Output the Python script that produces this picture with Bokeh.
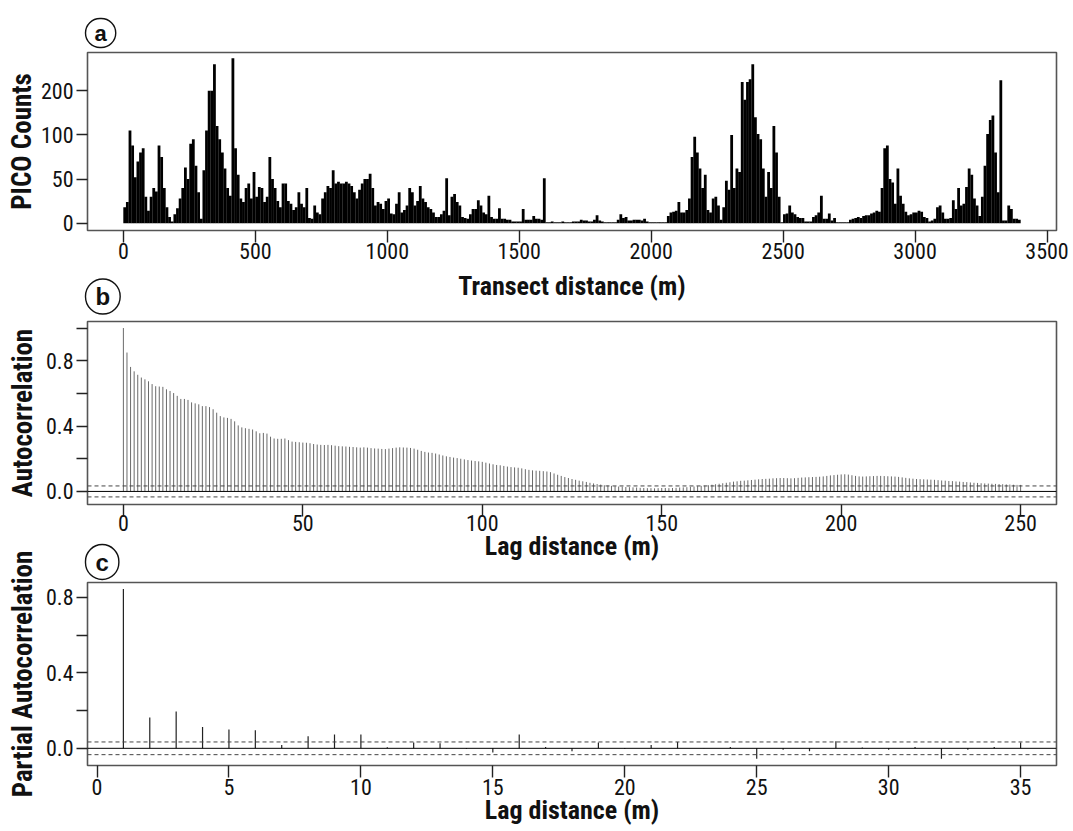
from bokeh.plotting import figure
from bokeh.models import Range1d, FixedTicker, Span, NumeralTickFormatter
from bokeh.layouts import column
from bokeh.embed import file_html
from bokeh.resources import INLINE

# ---------------- data ----------------
# panel a: PICO counts in 10 m bins along the transect (bin centres)
transect_bin_m = list(range(5, 3400, 10))
pico_counts = [
    18, 24, 105, 88, 52, 70, 80, 85, 30, 14,
    30, 40, 36, 88, 75, 40, 18, 7, 2, 10,
    17, 28, 40, 63, 50, 90, 95, 65, 35, 5,
    60, 105, 150, 150, 180, 110, 95, 80, 62, 40,
    31, 187, 85, 55, 28, 24, 40, 45, 28, 58,
    30, 41, 40, 24, 30, 75, 50, 40, 25, 18,
    45, 45, 25, 22, 15, 18, 35, 22, 18, 40,
    6, 5, 20, 12, 10, 28, 35, 42, 40, 60,
    45, 47, 45, 45, 47, 45, 42, 35, 28, 38,
    45, 50, 50, 56, 40, 20, 24, 22, 16, 25,
    28, 11, 10, 22, 35, 12, 15, 20, 40, 35,
    20, 25, 42, 28, 24, 18, 16, 12, 7, 7,
    10, 14, 51, 9, 30, 33, 24, 20, 7, 6,
    5, 10, 16, 16, 26, 20, 12, 10, 31, 7,
    5, 5, 17, 5, 5, 4, 4, 2, 2, 2,
    2, 16, 4, 4, 4, 8, 5, 5, 4, 51,
    1, 1, 2, 1, 1, 1, 2, 1, 1, 1,
    2, 2, 2, 4, 3, 3, 2, 2, 4, 9,
    3, 2, 1, 1, 1, 1, 1, 4, 10, 6,
    7, 3, 3, 4, 4, 4, 3, 5, 2, 1,
    1, 1, 1, 1, 1, 1, 8, 12, 13, 14,
    24, 12, 12, 15, 28, 75, 98, 80, 62, 40,
    55, 15, 12, 28, 30, 20, 4, 18, 48, 38,
    100, 40, 62, 58, 160, 140, 160, 163, 180, 120,
    101, 95, 62, 30, 58, 40, 110, 80, 30, 1,
    10, 11, 20, 12, 10, 7, 6, 6, 2, 2,
    2, 7, 9, 12, 31, 5, 5, 11, 3, 6,
    1, 1, 1, 1, 1, 4, 5, 6, 7, 6,
    8, 9, 9, 11, 12, 14, 13, 40, 85, 88,
    50, 46, 22, 62, 31, 22, 13, 9, 10, 12,
    12, 14, 13, 7, 6, 2, 3, 5, 18, 20,
    12, 5, 5, 6, 26, 16, 40, 20, 22, 41,
    62, 55, 28, 20, 8, 30, 65, 101, 117, 122,
    80, 35, 162, 3, 3, 20, 16, 5, 5, 4,
]
a_x_ticks = [0, 500, 1000, 1500, 2000, 2500, 3000, 3500]
a_y_ticks = [0, 50, 100, 150]
a_y_labels = {150: "200"}

# panel b: autocorrelation, lags 0..250 m
acf_lag_m = list(range(0, 251))
acf_values = [
    1.000, 0.850, 0.762, 0.735, 0.714, 0.697, 0.686, 0.674, 0.657, 0.644,
    0.642, 0.640, 0.625, 0.615, 0.602, 0.585, 0.566, 0.566, 0.560, 0.545,
    0.539, 0.533, 0.522, 0.522, 0.516, 0.503, 0.482, 0.461, 0.453, 0.450,
    0.444, 0.429, 0.404, 0.392, 0.387, 0.383, 0.379, 0.368, 0.356, 0.358,
    0.354, 0.335, 0.324, 0.322, 0.322, 0.324, 0.314, 0.305, 0.303, 0.301,
    0.299, 0.298, 0.295, 0.290, 0.287, 0.285, 0.284, 0.285, 0.283, 0.280,
    0.277, 0.276, 0.275, 0.273, 0.272, 0.270, 0.268, 0.270, 0.268, 0.265,
    0.263, 0.262, 0.260, 0.259, 0.262, 0.265, 0.268, 0.270, 0.269, 0.268,
    0.266, 0.262, 0.255, 0.248, 0.242, 0.238, 0.236, 0.232, 0.226, 0.220,
    0.215, 0.211, 0.207, 0.204, 0.200, 0.196, 0.192, 0.189, 0.186, 0.184,
    0.181, 0.176, 0.171, 0.166, 0.162, 0.160, 0.156, 0.152, 0.149, 0.147,
    0.145, 0.141, 0.136, 0.132, 0.129, 0.127, 0.126, 0.124, 0.122, 0.118,
    0.110, 0.102, 0.095, 0.088, 0.082, 0.076, 0.071, 0.066, 0.062, 0.058,
    0.053, 0.049, 0.045, 0.042, 0.038, 0.036, 0.034, 0.032, 0.030, 0.029,
    0.027, 0.026, 0.025, 0.024, 0.022, 0.021, 0.020, 0.020, 0.019, 0.020,
    0.021, 0.021, 0.020, 0.021, 0.022, 0.024, 0.025, 0.026, 0.028, 0.030,
    0.032, 0.034, 0.036, 0.038, 0.041, 0.044, 0.047, 0.050, 0.053, 0.056,
    0.060, 0.062, 0.065, 0.066, 0.068, 0.070, 0.072, 0.074, 0.076, 0.077,
    0.078, 0.080, 0.081, 0.082, 0.082, 0.081, 0.080, 0.081, 0.083, 0.085,
    0.086, 0.087, 0.088, 0.089, 0.090, 0.092, 0.095, 0.098, 0.100, 0.102,
    0.104, 0.105, 0.103, 0.099, 0.095, 0.092, 0.091, 0.092, 0.093, 0.094,
    0.095, 0.095, 0.094, 0.093, 0.092, 0.091, 0.089, 0.086, 0.083, 0.080,
    0.078, 0.076, 0.075, 0.074, 0.073, 0.072, 0.071, 0.069, 0.067, 0.066,
    0.064, 0.063, 0.061, 0.060, 0.058, 0.057, 0.055, 0.053, 0.052, 0.050,
    0.049, 0.048, 0.047, 0.046, 0.045, 0.044, 0.043, 0.042, 0.041, 0.040,
    0.040,
]
b_x_ticks = [0, 50, 100, 150, 200, 250]

# panel c: partial autocorrelation, lags 1..35 m
pacf_lag_m = list(range(1, 36))
pacf_values = [
    0.844, 0.163, 0.195, 0.113, 0.100, 0.095, 0.018, 0.064, 0.073, 0.073,
    0.005, 0.031, 0.027, -0.004, -0.022, 0.073, 0.007, -0.015, 0.031, -0.004,
    0.018, 0.033, 0.002, 0.007, -0.055, -0.007, -0.015, 0.037, 0.004, -0.007,
    0.007, -0.055, -0.007, 0.007, 0.031,
]
c_x_ticks = [0, 5, 10, 15, 20, 25, 30, 35]
corr_major = [0.0, 0.4, 0.8]
b_corr_minor = [0.2, 0.6, 1.0]
c_corr_minor = [0.2, 0.6]
ci_bound = 0.0336  # 1.96 / sqrt(3400)

# ---------------- styling ----------------
TICK_FONT = "Roboto Condensed"
TITLE_FONT = "Roboto Condensed"
LETTER_FONT = "Liberation Sans"
W = 1073


def make_fig(height, top, bottom, xr, yr, margin=None):
    kw = dict(width=W, height=height, x_range=xr, y_range=yr,
              output_backend="svg", toolbar_location=None, tools="",
              min_border_left=87, min_border_right=17,
              min_border_top=top, min_border_bottom=bottom,
              border_fill_color=None, background_fill_color="white",
              outline_line_color="#555555", outline_line_width=1.6)
    if margin is not None:
        kw["margin"] = margin
    p = figure(**kw)
    p.grid.visible = False
    for ax in (p.xaxis[0], p.yaxis[0]):
        ax.axis_line_color = None
        ax.major_tick_line_color = "#222222"
        ax.major_tick_line_width = 1.4
        ax.major_tick_in = 0
        ax.minor_tick_line_color = "#222222"
        ax.minor_tick_line_width = 1.4
        ax.minor_tick_in = 0
        ax.major_label_text_font = TICK_FONT
        ax.major_label_text_font_size = "22px"
        ax.major_label_text_color = "#111111"
        ax.axis_label_text_font = TITLE_FONT
        ax.axis_label_text_font_style = "bold"
        ax.axis_label_text_color = "#111111"
    p.xaxis.axis_label_text_font_size = "26px"
    p.yaxis.axis_label_text_font_size = "27px"
    p.xaxis.major_tick_out = 12
    p.xaxis.major_label_standoff = 0
    p.yaxis.major_tick_out = 11
    p.yaxis.minor_tick_out = 11
    p.yaxis.major_label_standoff = 3
    return p


def letter(p, txt, size, pad_x, pad_y, standoff):
    t = p.title
    t.text = txt
    t.align = "left"
    t.offset = -2
    t.standoff = standoff
    t.text_font = LETTER_FONT
    t.text_font_style = "bold"
    t.text_font_size = size
    t.text_color = "#111111"
    t.border_line_color = "#111111"
    t.border_line_width = 1.4
    t.padding = dict(left=pad_x, right=pad_x, top=pad_y, bottom=pad_y)
    t.border_radius = 18


# ---- panel a ----
pa = make_fig(310, 52, 80, Range1d(-136, 3536), Range1d(-8.3, 193.4))
pa.vbar(x=transect_bin_m, top=pico_counts, bottom=0, width=10.6,
        fill_color="black", line_color=None)
pa.xaxis.ticker = FixedTicker(ticks=a_x_ticks)
pa.yaxis.ticker = FixedTicker(ticks=a_y_ticks)
pa.yaxis.major_label_overrides = a_y_labels
pa.xaxis.axis_label = "Transect distance (m)"
pa.yaxis.axis_label = "PICO Counts"
pa.xaxis.axis_label_standoff = 9
pa.yaxis.axis_label_standoff = 0
letter(pa, "a", "22px", 9, 2, 10)

# ---- panel b ----
pb = make_fig(304, 55, 66, Range1d(-10, 260), Range1d(-0.080, 1.040), margin=(-44, 0, 0, 0))
pb.segment(x0=acf_lag_m, y0=0, x1=acf_lag_m, y1=acf_values, line_color="#6a6a6a", line_width=1)
pb.add_layout(Span(location=0, dimension="width", line_color="black", line_width=1))
pb.add_layout(Span(location=ci_bound, dimension="width", line_color="#444444", line_width=1, line_dash="4 3"))
pb.add_layout(Span(location=-ci_bound, dimension="width", line_color="#444444", line_width=1, line_dash="4 3"))
pb.xaxis.ticker = FixedTicker(ticks=b_x_ticks)
pb.yaxis.ticker = FixedTicker(ticks=corr_major, minor_ticks=b_corr_minor)
pb.yaxis.formatter = NumeralTickFormatter(format="0.0")
pb.xaxis.axis_label = "Lag distance (m)"
pb.yaxis.axis_label = "Autocorrelation"
pb.xaxis.major_label_standoff = -2
pb.xaxis.axis_label_standoff = -3
pb.yaxis.axis_label_standoff = 4
letter(pb, "b", "24px", 10, 4, 15)

# ---- panel c ----
pc = make_fig(303, 54, 66, Range1d(-0.36, 36.36), Range1d(-0.091, 0.878), margin=(-42, 0, 0, 0))
pc.segment(x0=pacf_lag_m, y0=0, x1=pacf_lag_m, y1=pacf_values, line_color="#222222", line_width=1.2)
pc.add_layout(Span(location=0, dimension="width", line_color="black", line_width=1))
pc.add_layout(Span(location=ci_bound, dimension="width", line_color="#444444", line_width=1, line_dash="4 3"))
pc.add_layout(Span(location=-ci_bound, dimension="width", line_color="#444444", line_width=1, line_dash="4 3"))
pc.xaxis.ticker = FixedTicker(ticks=c_x_ticks)
pc.yaxis.ticker = FixedTicker(ticks=corr_major, minor_ticks=c_corr_minor)
pc.yaxis.formatter = NumeralTickFormatter(format="0.0")
pc.xaxis.axis_label = "Lag distance (m)"
pc.yaxis.axis_label = "Partial Autocorrelation"
pc.xaxis.major_label_standoff = 1
pc.xaxis.axis_label_standoff = -3
pc.yaxis.axis_label_standoff = 4
letter(pc, "c", "24px", 10, 4, 6)

layout = column(pa, pb, pc)
open("out.html", "w").write(file_html(layout, INLINE))
